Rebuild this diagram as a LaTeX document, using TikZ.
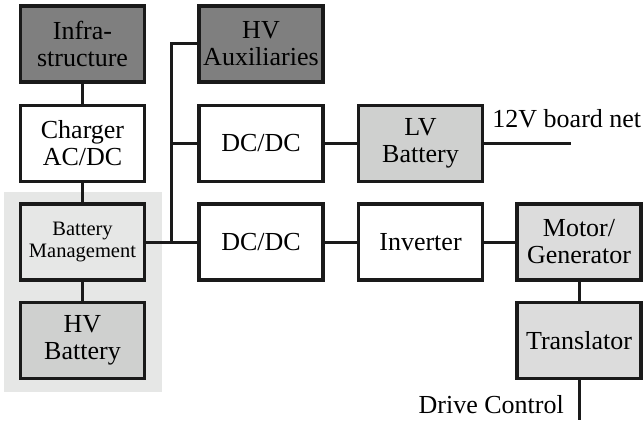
\documentclass[tikz,border=0pt]{standalone}
\usepackage{fontspec}
\setmainfont{Liberation Serif}
\newfontfamily\diagfont{Liberation Serif}
\usepackage{tikz}
\usetikzlibrary{positioning, calc, fit, backgrounds}
\definecolor{darkfill}{HTML}{7F7F7F}
\definecolor{midfill}{HTML}{CFD0CF}
\definecolor{lightfill}{HTML}{DCDCDC}
\definecolor{groupfill}{HTML}{E6E7E6}
\definecolor{edge}{HTML}{1A1A1A}

\begin{document}
\begin{tikzpicture}[
    node distance=20pt and 51pt,
    font=\diagfont\fontsize{26}{27}\selectfont,
    blk/.style={draw=edge, line width=3.5pt, minimum width=124pt, minimum height=76pt, align=center, inner sep=2pt, fill=white},
    dark/.style={blk, fill=darkfill},
    mid/.style={blk, fill=midfill},
    light/.style={blk, fill=lightfill},
    conn/.style={draw=edge, line width=3pt}
]
\useasboundingbox (0,0) rectangle (644pt,-422pt);

% Charging path
\node[dark] (infra) at (82.5pt,-44pt) {Infra-\\structure};
\node[blk, below=of infra] (charger) {Charger\\AC/DC};
\node[blk, fill=groupfill, below=19pt of charger, font=\diagfont\fontsize{20.5}{22}\selectfont] (bms) {Battery\\Management};
\node[mid, below=19pt of bms] (hvbat) {HV\\Battery};

% HV side
\node[dark, right=of infra] (aux) {HV\\Auxiliaries};
\node[blk, right=of charger] (dcdcLV) {DC/DC};
\node[blk, right=of bms] (dcdcHV) {DC/DC};

% LV net
\node[mid, right=32pt of dcdcLV] (lvbat) {LV\\Battery};
\coordinate[right=87pt of lvbat.east] (net);

% Drive train
\node[blk, right=32pt of dcdcHV] (inv) {Inverter};
\node[light, right=31pt of inv] (motor) {Motor/\\Generator};
\node[light, below=19pt of motor] (trans) {Translator};
\coordinate[below=40pt of trans.south] (drive);

% Battery group background
\begin{scope}[on background layer]
\node[fill=groupfill, inner sep=0pt, fit={($(bms.north west)+(-15pt,10pt)$) ($(hvbat.south east)+(16pt,-12pt)$)}] (group) {};
\end{scope}

% HV bus
\coordinate (bus) at ($(bms.east)!0.5!(dcdcHV.west)$);

% Connections
\draw[conn] (infra) -- (charger);
\draw[conn] (charger) -- (bms);
\draw[conn] (bms) -- (hvbat);
\draw[conn] (bms) -- (dcdcHV);
\draw[conn] (aux.west) -| (bus);
\draw[conn] (dcdcLV.west) -| (bus);
\draw[conn] (dcdcLV) -- (lvbat);
\draw[conn] (lvbat.east) -- (net);
\draw[conn] (dcdcHV) -- (inv);
\draw[conn] (inv) -- (motor);
\draw[conn] (motor) -- (trans);
\draw[conn] (trans.south) -- (drive);

% Labels
\node[anchor=base west, inner sep=2pt] (netlabel) at ($(lvbat.east)+(6pt,16pt)$) {12V board net};
\node[anchor=base east, inner sep=2pt] (drivelabel) at ($(drive)+(-13pt,7pt)$) {Drive Control};

\end{tikzpicture}
\end{document}
